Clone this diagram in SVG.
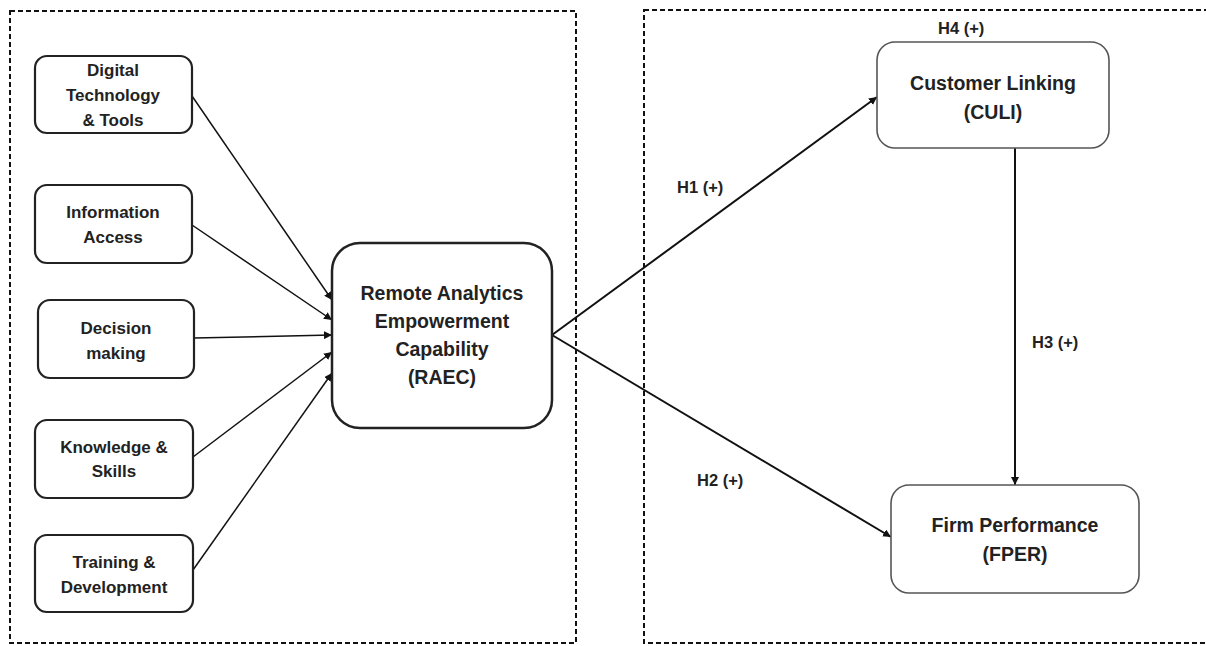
<svg xmlns="http://www.w3.org/2000/svg" width="1206" height="646" viewBox="0 0 1206 646">
  <style>
    .frame{fill:none;stroke:#111;stroke-width:2;stroke-dasharray:5 3}
    .src{fill:#fff;stroke:#222;stroke-width:2.2}
    .core{fill:#fff;stroke:#222;stroke-width:2.5}
    .out{fill:#fff;stroke:#555;stroke-width:1.6}
    .t{font-family:"Liberation Sans",Arial,sans-serif;font-weight:bold;fill:#222;text-anchor:middle}
    .s{font-size:17px}
    .m{font-size:19.5px}
    .h{font-family:"Liberation Sans",Arial,sans-serif;font-weight:bold;fill:#222;font-size:16.5px}
    .c1{fill:none;stroke:#111;stroke-width:1.5}
    .c2{fill:none;stroke:#111;stroke-width:2}
  </style>
  <defs>
    <marker id="ah" viewBox="0 0 10 10" refX="10" refY="5" markerWidth="8" markerHeight="8" markerUnits="userSpaceOnUse" orient="auto">
      <path d="M0,0 L10,5 L0,10 z" fill="#111"/>
    </marker>
  </defs>
  <rect width="1206" height="646" fill="#fff"/>
  <g id="frames">
    <rect class="frame" x="10" y="11" width="566" height="632"/>
    <rect class="frame" x="644" y="10" width="580" height="633"/>
  </g>
  <g id="connectors">
    <line class="c1" x1="192" y1="96" x2="332" y2="300" marker-end="url(#ah)"/>
    <line class="c1" x1="192" y1="225" x2="332" y2="320" marker-end="url(#ah)"/>
    <line class="c1" x1="194" y1="338" x2="332" y2="335" marker-end="url(#ah)"/>
    <line class="c1" x1="193" y1="457" x2="332" y2="352" marker-end="url(#ah)"/>
    <line class="c1" x1="193" y1="570" x2="332" y2="373" marker-end="url(#ah)"/>
    <line class="c2" x1="552" y1="335" x2="877" y2="97" marker-end="url(#ah)"/>
    <line class="c2" x1="552" y1="335" x2="891" y2="537" marker-end="url(#ah)"/>
    <line class="c2" x1="1015" y1="148" x2="1015" y2="485" marker-end="url(#ah)"/>
    <text class="h" x="677" y="193">H1 (+)</text>
    <text class="h" x="697" y="486">H2 (+)</text>
    <text class="h" x="1032" y="348">H3 (+)</text>
    <text class="h" x="938" y="34">H4 (+)</text>
  </g>
  <g id="digital">
    <rect class="src" x="35" y="56" width="157" height="77" rx="12"/>
    <text class="t s" x="113" y="76">Digital</text>
    <text class="t s" x="113" y="101">Technology</text>
    <text class="t s" x="113" y="126">&amp; Tools</text>
  </g>
  <g id="info">
    <rect class="src" x="35" y="185" width="157" height="78" rx="12"/>
    <text class="t s" x="113" y="218">Information</text>
    <text class="t s" x="113" y="243">Access</text>
  </g>
  <g id="decision">
    <rect class="src" x="38" y="300" width="156" height="78" rx="12"/>
    <text class="t s" x="116" y="334">Decision</text>
    <text class="t s" x="116" y="359">making</text>
  </g>
  <g id="knowledge">
    <rect class="src" x="35" y="420" width="158" height="78" rx="12"/>
    <text class="t s" x="114" y="453">Knowledge &amp;</text>
    <text class="t s" x="114" y="477">Skills</text>
  </g>
  <g id="training">
    <rect class="src" x="35" y="535" width="158" height="77" rx="12"/>
    <text class="t s" x="114" y="568">Training &amp;</text>
    <text class="t s" x="114" y="593">Development</text>
  </g>
  <g id="raec">
    <rect class="core" x="332" y="243" width="220" height="185" rx="28"/>
    <text class="t m" x="442" y="300">Remote Analytics</text>
    <text class="t m" x="442" y="328">Empowerment</text>
    <text class="t m" x="442" y="356">Capability</text>
    <text class="t m" x="442" y="384">(RAEC)</text>
  </g>
  <g id="culi">
    <rect class="out" x="877" y="42" width="232" height="106" rx="18"/>
    <text class="t m" x="993" y="90">Customer Linking</text>
    <text class="t m" x="993" y="119">(CULI)</text>
  </g>
  <g id="fper">
    <rect class="out" x="891" y="485" width="248" height="108" rx="18"/>
    <text class="t m" x="1015" y="532">Firm Performance</text>
    <text class="t m" x="1015" y="561">(FPER)</text>
  </g>
</svg>
